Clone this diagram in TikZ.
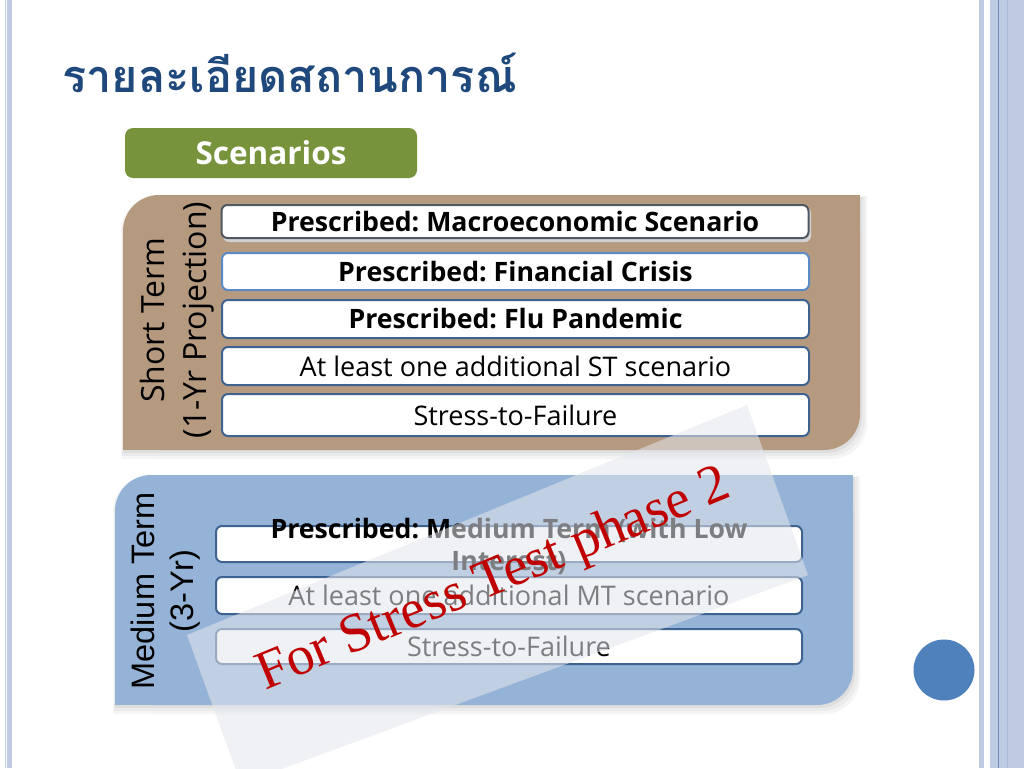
\documentclass[tikz,border=0pt]{standalone}
\usepackage{fontspec}
\newfontfamily\thaifont[Script=Thai]{Loma}
\newfontfamily\osans{Open Sans}
\newfontfamily\lsans{Liberation Sans}
\newfontfamily\rserif{Liberation Serif}
\definecolor{titleblue}{RGB}{31,73,125}
\definecolor{tanc}{RGB}{181,154,128}
\definecolor{medblue}{RGB}{149,179,215}
\definecolor{scgreen}{RGB}{119,147,60}
\definecolor{boxline}{RGB}{63,99,145}
\definecolor{boxlinelight}{RGB}{91,139,196}
\definecolor{boxlinegray}{RGB}{80,88,100}
\definecolor{bordc}{RGB}{190,203,227}
\definecolor{bordline}{RGB}{110,140,190}
\definecolor{dotblue}{RGB}{79,129,189}
\definecolor{stampred}{RGB}{192,0,0}
\definecolor{veil}{RGB}{228,230,235}
\newcommand\diagpanel[5]{%
  \fill[#1,rounded corners=36pt] (#2,#3) rectangle (#4,#5);
  \fill[#1] (#4-50,#3) rectangle (#4,#3+50);
  \fill[#1] (#2,#5-50) rectangle (#2+50,#5);
}
\frenchspacing
\begin{document}
\begin{tikzpicture}[x=1pt,y=-1pt,
  itembox/.style={draw=boxline, line width=2pt, fill=white, rounded corners=6pt,
    inner sep=0pt, align=center, text=black, font=\osans\fontsize{27}{32}\selectfont},
  boldbox/.style={itembox, font=\osans\bfseries\fontsize{26.7}{32}\selectfont},
  sidelabel/.style={rotate=90, align=center, inner sep=0pt, text=black},
  boxshadow/.style={fill=black!18, rounded corners=6pt, draw=none}]
\useasboundingbox (0,0) rectangle (1024,768);
\fill[white] (0,0) rectangle (1024,768);

% borders
\fill[bordc] (5,0) rectangle (6,768);
\fill[bordc] (7,0) rectangle (12,768);
\fill[bordc] (979,0) rectangle (984,768);
\fill[bordc] (990,0) rectangle (1024,768);
\draw[bordline, line width=1.2pt] (998.5,0) -- (998.5,768);
\draw[bordc!75!bordline, line width=1pt] (1007.5,0) -- (1007.5,768);

% title
\node[anchor=base west, inner sep=0pt, text=titleblue,
  font=\thaifont\bfseries\fontsize{45}{50}\selectfont] (title) at (62,92) {รายละเอียดสถานการณ์};

% scenarios tab
\node[fill=scgreen, rounded corners=8pt, minimum width=292pt, minimum height=50pt,
  inner sep=0pt, text=white, font=\osans\bfseries\fontsize{31.5}{34}\selectfont] (scen) at (271,153) {Scenarios};

% short term panel (soft shadow + shape)
\diagpanel{black!4}{121}{196}{867}{459}
\diagpanel{black!8}{122}{197}{865}{456}
\diagpanel{black!13}{123}{197}{862}{453}
\diagpanel{tanc}{123}{195}{860}{450}

% medium term panel
\diagpanel{black!4}{113}{476}{860}{714}
\diagpanel{black!8}{114}{477}{858}{711}
\diagpanel{black!13}{115}{477}{855}{708}
\diagpanel{medblue}{115}{475}{853}{705}

% side labels
\node[sidelabel, font=\osans\fontsize{32}{42}\selectfont] (stl) at (177,320) {Short Term\\(1-Yr Projection)};
\node[sidelabel, font=\lsans\fontsize{32.5}{39}\selectfont] (mtl) at (166,591) {Medium Term\\(3-Yr)};

% short term items
\fill[boxshadow] (223,207) rectangle (811,242);
\node[boldbox, draw=boxlinegray, minimum width=587pt, minimum height=33pt] (s1) at (515,221.5) {Prescribed: Macroeconomic Scenario};
\node[boldbox, draw=boxlinelight, minimum width=587pt, minimum height=37pt] (s2) at (515.5,271.5) {Prescribed: Financial Crisis};
\node[boldbox, minimum width=587pt, minimum height=38pt] (s3) at (515.5,319) {Prescribed: Flu Pandemic};
\node[itembox, minimum width=587pt, minimum height=38pt] (s4) at (515.5,366) {At least one additional ST scenario};
\node[itembox, minimum width=587pt, minimum height=42pt] (s5) at (515.5,415) {Stress-to-Failure};

% medium term items
\node[itembox, minimum width=586pt, minimum height=36pt] (m1) at (509,544) {};
\node[boldbox, draw=none, fill=none] (m1t) at (509,546) {Prescribed: Medium Term (with Low\\Interest)};
\node[itembox, minimum width=586pt, minimum height=37pt] (m2) at (509,595.5) {At least one additional MT scenario};
\node[itembox, minimum width=586pt, minimum height=35pt] (m3) at (509,646.5) {Stress-to-Failure};

% dot
\node[circle, fill=dotblue, minimum size=61pt, inner sep=0pt] (dot) at (944,670) {};

% veil
\fill[veil, opacity=0.55] (747,405) -- (808,575) -- (241,784) -- (187,635) -- cycle;

% stamp
\node[rotate=22.5, inner sep=0pt, text=stampred, font=\rserif\fontsize{55}{60}\selectfont] (stamp) at (494,581) {For Stress Test phase 2};
\end{tikzpicture}
\end{document}
